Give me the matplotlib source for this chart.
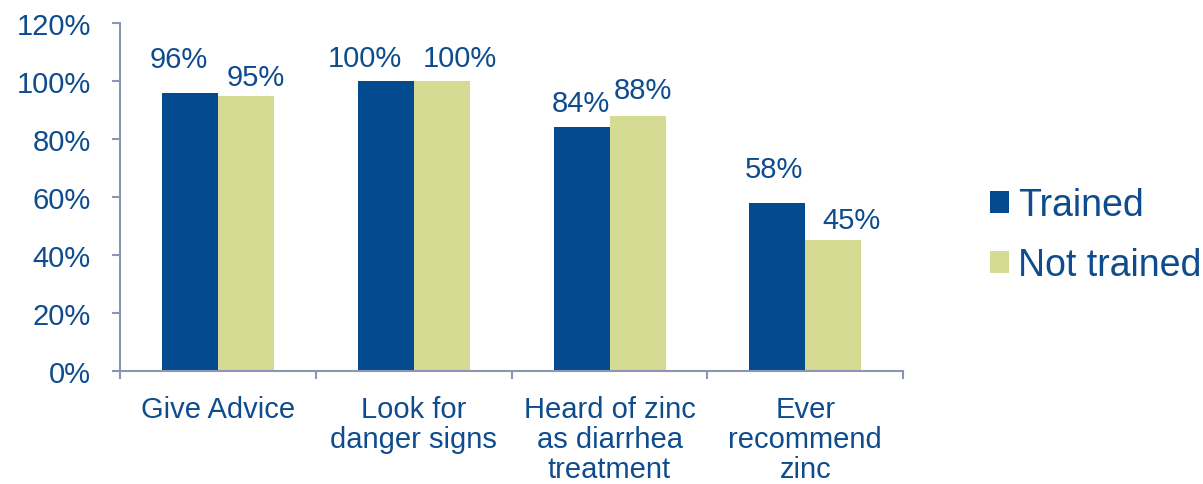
import numpy as np
import matplotlib
matplotlib.use("Agg")
from matplotlib import pyplot as plt

categories = ["Give Advice", "Look for\ndanger signs", "Heard of zinc\nas diarrhea\ntreatment", "Ever\nrecommend\nzinc"]
trained = [96, 100, 84, 58]
not_trained = [95, 100, 88, 45]
series_names = ["Trained", "Not trained"]

# label nudges in pixels (labels were hand-placed in the original)
trained_off = [(-11, 26), (-21, 15), (-1, 16), (-3, 26)]
not_trained_off = [(10, 11), (18, 15), (5, 18), (18, 12)]

blue = "#034A8F"
green = "#D5DB93"
text_col = "#0E4C8E"
axis_col = "#8C96B4"

plt.rcParams['font.family'] = ['Liberation Sans', 'DejaVu Sans']

fig = plt.figure(figsize=(12.03, 4.85), dpi=100)
ax = fig.add_axes([0.0998, 0.233, 0.651, 0.7175])

x = np.arange(len(categories))
w = 0.286
b1 = ax.bar(x - w / 2, trained, w, color=blue, label=series_names[0])
b2 = ax.bar(x + w / 2, not_trained, w, color=green, label=series_names[1])

for bars, vals, offs in [(b1, trained, trained_off), (b2, not_trained, not_trained_off)]:
    for r, v, o in zip(bars, vals, offs):
        ax.annotate(f"{v}%", (r.get_x() + r.get_width() / 2, v), xytext=o,
                    textcoords="offset pixels", ha="center", va="baseline",
                    fontsize=21, color=text_col)

ax.set_xlim(-0.5, len(categories) - 0.5)
ax.set_ylim(0, 120)
ax.set_yticks(range(0, 121, 20))
ax.set_yticklabels([f"{t}%" for t in range(0, 121, 20)], fontsize=21, color=text_col)

ax.set_xticks(np.arange(-0.5, len(categories), 1.0))
ax.set_xticklabels([])
ax.set_xticks(x, minor=True)
ax.set_xticklabels(categories, minor=True, fontsize=21, color=text_col, linespacing=1.1)
ax.tick_params(axis="x", which="minor", length=0, pad=17)
ax.tick_params(axis="x", which="major", length=6, color=axis_col, width=1.5)
ax.tick_params(axis="y", length=6, color=axis_col, width=1.5, pad=15)

for s in ["top", "right"]:
    ax.spines[s].set_visible(False)
for s in ["left", "bottom"]:
    ax.spines[s].set_color(axis_col)
    ax.spines[s].set_linewidth(1.5)

leg = ax.legend(loc="center left", bbox_to_anchor=(1.087, 0.39), frameon=False,
                fontsize=27, handlelength=0.5, handleheight=0.5, handletextpad=0.25,
                labelspacing=0.64, borderpad=0)
for t in leg.get_texts():
    t.set_color(text_col)

fig.savefig("out.png", dpi=100)
